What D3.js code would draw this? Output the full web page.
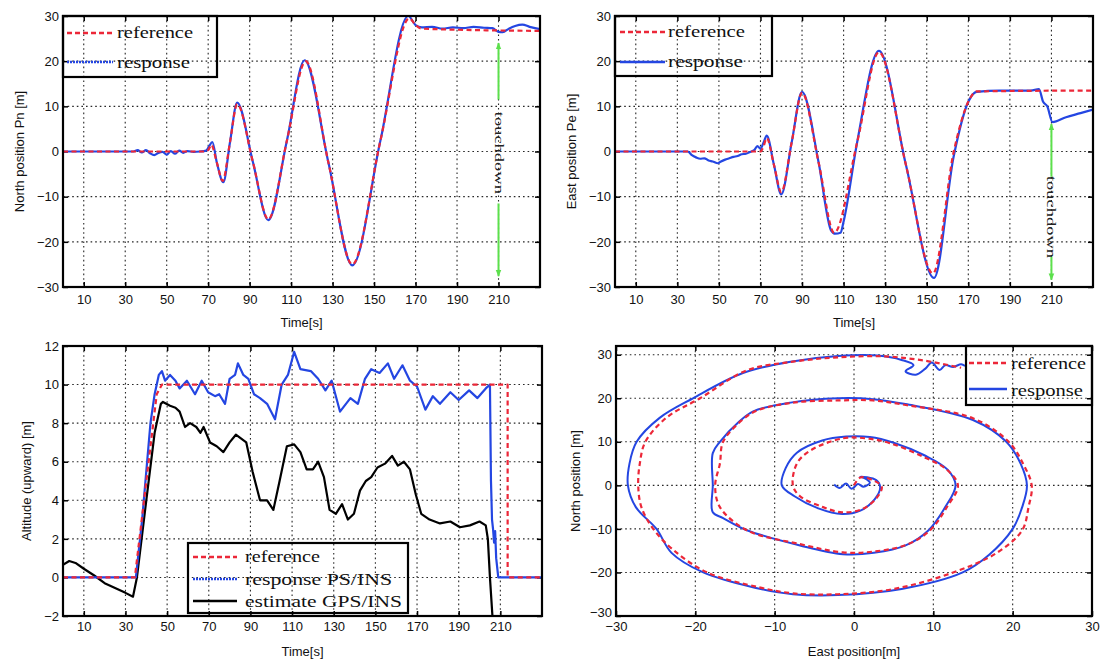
<!DOCTYPE html>
<html><head><meta charset="utf-8">
<script src="https://cdn.jsdelivr.net/npm/d3@7"></script>
<style>
body{margin:0;background:#fff;}
</style></head><body>
<svg id="c" width="1109" height="662"></svg>
<script>
// ---------------- data ----------------
const timeTicks = [10,30,50,70,90,110,130,150,170,190,210];
const posTicks = [-30,-20,-10,0,10,20,30];
const altTicks = [-2,0,2,4,6,8,10,12];
const spiralTicks = [-30,-20,-10,0,10,20,30];

const pnRef = [[0,0],[68,0],[70,0.3],[71.5,1.5],[74.2,-2.5],[77,-6.5],[80.5,2],[84,10.5],[91.5,-2.2],[99,-15],[108,2.5],[117,20],[128,-2.5],[139.5,-25],[153,2.3],[167,29.5],[170,28],[173,27.2],[230,26.7]];
const pnResp = [[0,0],[34,0],[36,0.3],[38,-0.2],[40,0.3],[42,-0.4],[44,-0.8],[46,-0.3],[48,-0.1],[50,-0.7],[52,0.1],[54,-0.5],[56,0.2],[58,-0.3],[60,0.1],[63,-0.1],[66,0],[69,0.2],[70.5,1.2],[72,2.1],[74.2,-2.5],[77.3,-6.8],[80.5,2],[84,10.8],[91.5,-2.2],[99,-15.2],[108,2.5],[116.5,20.2],[128,-2.5],[139.5,-25.2],[153,2.3],[166.5,30],[170,28],[173,27.5],[178,27.6],[183,27.2],[188,27.5],[193,27.3],[198,27.6],[203,27.4],[207,27.3],[210,26.5],[212,26.4],[215,27.2],[218,27.8],[221.5,28.1],[225,27.6],[230,27.1]];

const peRef = [[0,0],[70,0],[71.5,1.2],[73,3],[76.5,-3],[80,-9],[85,2],[90,13],[98,-2.5],[105.5,-18],[116.5,2],[127,22],[140,-3],[153,-27],[163,0],[170,11],[174,13.3],[230,13.5]];
const peResp = [[0,0],[35,0],[37,-0.8],[39,-1.3],[41,-1.6],[43,-1.5],[45,-2],[47,-2.2],[49.5,-2.6],[51,-2.2],[53,-1.8],[55,-1.5],[57,-1.2],[59,-1],[61,-0.6],[63,-0.5],[65,-0.1],[67,0.3],[68.5,1.2],[70,0.6],[71.5,2],[73,3.5],[76.5,-3],[80,-9.5],[85,2],[90,13.2],[98,-2.5],[104,-17.5],[106,-18.2],[108.5,-18],[110,-15.5],[116.5,2],[127,22.3],[140,-3],[153.5,-28],[163,-1],[170,11],[174,13.2],[185,13.5],[200,13.5],[204,13.8],[206,11],[208,10],[210.5,6.5],[217,7.6],[224,8.5],[230,9.3]];

const altRef = [[0,0],[34.5,0],[45,9.5],[47.5,10],[213.5,10],[213.5,0],[230,0]];
const altResp = [[0,0],[35,0],[38,3],[42,8],[44,9.5],[46,10.5],[47.5,10.7],[49,10.2],[51.4,10.5],[54,10.2],[56,9.8],[59.5,10.2],[63.4,9.5],[66.6,10.2],[69.7,9.6],[73,9.4],[75,9.5],[77.8,9.0],[80,10.3],[82.6,10.5],[84,11.1],[86.6,10.5],[89,10.3],[91.7,9.5],[94.6,9.3],[98,9.0],[101.8,8.2],[105,10],[108,10.5],[111,11.7],[114,10.8],[119,10.7],[122.5,10.3],[126,9.7],[129,10.2],[133,8.6],[138,9.3],[141.6,9.0],[145,10.3],[148,10.8],[152,10.6],[156,11.1],[159,10.3],[163,11.0],[166.6,10.2],[170,9.9],[174,8.7],[177.6,9.4],[181,9.0],[186,9.6],[190,9.2],[195,9.7],[199,9.3],[203,9.8],[205,10],[205.5,5],[206,3],[206.5,2.5],[207,1.8],[207.5,2.4],[208,1],[209,0],[230,0]];
const altEst = [[0,0.65],[3,0.85],[6,0.75],[10,0.45],[15,0.1],[20,-0.3],[25,-0.55],[30,-0.8],[33.6,-1.0],[35.5,0],[40,4],[44,7.5],[47,9],[48,9.1],[51.4,8.9],[54,8.8],[56,8.6],[58.6,7.8],[61,8.0],[64,7.8],[66,7.5],[67.5,7.8],[70.6,7.0],[73.8,6.8],[77,6.5],[80,7.0],[83,7.4],[88,7.0],[91,5.5],[94.6,4],[98,4.0],[101,3.5],[104,5],[107.5,6.8],[111,6.9],[114,6.5],[117,5.6],[120,5.6],[122.5,6.0],[125.3,5.2],[128,3.5],[131,3.3],[134,3.8],[136.8,3.0],[139.7,3.3],[142.6,4.5],[145.4,5.0],[148,5.2],[151,5.7],[154.6,5.9],[158,6.3],[160.8,5.8],[163.7,6.0],[166.6,5.6],[169.4,4.3],[172,3.3],[176,3.0],[181,2.8],[186,2.9],[190.6,2.6],[195.4,2.7],[200,2.9],[203,2.7],[204,2],[205,0],[206.5,-2.5]];

// spiral (East, North)
const spiralRef = [[0,0],[0.8,1.8],[2.6,1],[3.5,-0.4],[2.8,-3],[1,-5.5],[-1.5,-6.2],[-3.9,-5],[-6.8,-2.5],[-7.7,0],[-7.2,5],[-5.5,8],[-1.4,10.8],[1.5,10.8],[4.5,9.7],[8.7,6.6],[11.7,3.6],[13.1,0],[11.7,-5],[9.6,-10.3],[6.7,-13.6],[2.5,-15.2],[-1.4,-15.4],[-6.8,-13.5],[-13.5,-10.3],[-16.9,-5],[-17.5,0],[-16.9,5],[-16.5,10],[-14.1,15],[-12.2,17.2],[-7.7,19],[-2,19.5],[2.4,19.5],[6.7,18.4],[15,15.4],[19.5,10],[21.3,5],[22.4,0],[22,-5],[21.2,-10.3],[18,-15.5],[12.5,-20],[5,-23.8],[-2,-25],[-7.7,-24.8],[-12,-23.4],[-18.5,-20],[-22.8,-14.8],[-25.3,-10],[-26.8,-5],[-27.2,0],[-27,5],[-26.3,10],[-23.6,15.6],[-19.4,20],[-13.5,26.4],[-7.7,28.4],[-2,29.4],[4,29.6],[9,28.6],[13.5,27]];
const spiralResp = [[-2.5,0.2],[-1.8,-0.6],[-1,0.4],[-0.3,-0.8],[0.5,0.3],[1.2,-0.3],[2,0.6],[1.5,1.5],[0.8,2],[2.8,1.2],[3.3,-0.5],[2.6,-3.2],[0.8,-5.8],[-1.5,-6.6],[-4.5,-5.3],[-7.5,-2.5],[-9.1,0],[-8.6,4],[-7.2,7.5],[-4,10.3],[-1,11.2],[2,11.1],[5,9.8],[9,6.8],[11.8,3.6],[12.8,0],[11.5,-5],[9.4,-10.3],[6.5,-13.8],[2.5,-15.5],[-1.4,-15.8],[-6.8,-13.8],[-13.5,-10.3],[-16.5,-7.5],[-17.8,-6.2],[-17.8,0],[-17.8,7.4],[-16.9,10],[-14.5,14.6],[-12.7,17],[-8,19],[-2,20],[2.4,19.8],[6.7,18.6],[15,15],[19.2,10],[21,5],[21.8,0],[21.2,-5],[20,-10],[17,-16],[13.7,-20],[6,-23.8],[-2,-25.2],[-7.7,-25],[-12.5,-23.5],[-19,-20],[-23,-15.5],[-24.9,-10],[-27.5,-5],[-28.5,0],[-28.3,5],[-27.4,10],[-24.5,15.5],[-20.3,20],[-14,25.8],[-8,28.4],[-2,29.7],[3,29.8],[6,28.8],[7.5,27.6],[6.5,26.2],[7.8,25.4],[9,26.8],[9.8,28.2],[10.8,26.5],[11.5,27.6],[12.5,27.2],[13.5,27.8],[14,27.4]];

// touchdown annotation (time, arrow value ranges)
const touchdownTime = 210;
const touchPn = {up:[24,11.5], down:[-11.5,-27.6], text:-0.3};
const touchPe = {up:[6.1,-5.6], down:[-23.3,-28.4], text:-14.5};

// ---------------- drawing ----------------
const svg = d3.select("#c");
const RED="#ec2738", BLUE="#2446e2", GREEN="#5ce04c", BLACK="#000";
const SANS='"Liberation Sans", Arial, sans-serif';
const SERIF='"Liberation Serif", "Times New Roman", serif';

const defs = svg.append("defs");
defs.append("marker").attr("id","arrow").attr("viewBox","0 0 10 10").attr("refX",9).attr("refY",5)
  .attr("markerWidth",7).attr("markerHeight",7).attr("orient","auto-start-reverse").attr("markerUnits","userSpaceOnUse")
  .append("path").attr("d","M0,1 L10,5 L0,9 Z").attr("fill",GREEN);

function makePanel(o){
  const xs=d3.scaleLinear().domain(o.xd).range([o.x0,o.x1]);
  const ys=d3.scaleLinear().domain(o.yd).range([o.y1,o.y0]);
  const g=svg.append("g");
  const id="clip"+o.id;
  defs.append("clipPath").attr("id",id).append("rect")
    .attr("x",o.x0).attr("y",o.y0).attr("width",o.x1-o.x0).attr("height",o.y1-o.y0);
  const grid=g.append("g").attr("stroke","#111").attr("stroke-width",1.1).attr("stroke-dasharray","1.6,3").attr("opacity",0.9);
  grid.selectAll("line.v").data(o.xt.filter(v=>v>o.xd[0]&&v<o.xd[1])).join("line").attr("class","v")
    .attr("x1",d=>xs(d)).attr("x2",d=>xs(d)).attr("y1",o.y0).attr("y2",o.y1);
  grid.selectAll("line.h").data(o.yt.filter(v=>v>o.yd[0]&&v<o.yd[1])).join("line").attr("class","h")
    .attr("y1",d=>ys(d)).attr("y2",d=>ys(d)).attr("x1",o.x0).attr("x2",o.x1);
  const fmt=d3.format("d");
  const style=a=>{a.select(".domain").remove();a.attr("font-size",13).attr("font-family",SANS);
    a.selectAll("line").attr("stroke-width",1.5);a.selectAll("text").attr("fill","#111");};
  g.append("g").attr("transform",`translate(0,${o.y1})`)
    .call(d3.axisBottom(xs).tickValues(o.xt).tickSize(-5).tickPadding(o.bp).tickFormat(fmt)).call(style);
  const la=g.append("g").attr("transform",`translate(${o.x0},0)`)
    .call(d3.axisLeft(ys).tickValues(o.yt).tickSize(-5).tickPadding(4).tickFormat(fmt)).call(style);
  if(o.liftBottomY){
    la.selectAll(".tick").filter(d=>d===o.yd[0]).select("text").attr("dy","0.05em");
  }
  g.append("g").attr("transform",`translate(0,${o.y0})`)
    .call(d3.axisTop(xs).tickValues(o.xt).tickSize(-5).tickFormat("")).call(style);
  g.append("g").attr("transform",`translate(${o.x1},0)`)
    .call(d3.axisRight(ys).tickValues(o.yt).tickSize(-5).tickFormat("")).call(style);
  const data=svg.append("g").attr("clip-path",`url(#${id})`);
  const top=svg.append("g");
  top.append("rect").attr("x",o.x0).attr("y",o.y0).attr("width",o.x1-o.x0).attr("height",o.y1-o.y0)
    .attr("fill","none").attr("stroke","#000").attr("stroke-width",2.2);
  top.append("text").attr("x",(o.x0+o.x1)/2).attr("y",o.xly).attr("text-anchor","middle")
    .attr("font-family",SANS).attr("font-size",13).attr("fill","#111").text(o.xl);
  top.append("text").attr("transform",`translate(${o.ylx},${(o.y0+o.y1)/2}) rotate(-90)`).attr("text-anchor","middle")
    .attr("font-family",SANS).attr("font-size",13).attr("fill","#111").text(o.yl);
  return {xs,ys,data,top};
}

function drawLine(p,arr,color,dash,curve,w){
  const line=d3.line().x(d=>p.xs(d[0])).y(d=>p.ys(d[1])).curve(curve);
  p.data.append("path").attr("d",line(arr)).attr("fill","none").attr("stroke",color)
    .attr("stroke-width",w||2.2).attr("stroke-dasharray",dash||null).attr("stroke-linejoin","round");
}

function legend(p,box,items){
  const g=p.top.append("g");
  g.append("rect").attr("x",box[0]).attr("y",box[1]).attr("width",box[2]).attr("height",box[3])
    .attr("fill","none").attr("stroke","#000").attr("stroke-width",2.2);
  items.forEach(it=>{
    g.append("line").attr("x1",it.sx[0]).attr("x2",it.sx[1]).attr("y1",it.sy).attr("y2",it.sy)
      .attr("stroke",it.color).attr("stroke-width",2.4).attr("stroke-dasharray",it.dash||null);
    g.append("text").attr("x",it.tx).attr("y",it.ty).attr("font-family",SERIF).attr("font-size",17)
      .attr("fill","#111").attr("textLength",it.len).attr("lengthAdjust","spacingAndGlyphs").text(it.label);
  });
}

function touchdown(p,t,spec){
  const x=p.xs(t);
  const g=p.top.append("g");
  g.append("line").attr("x1",x).attr("x2",x).attr("y1",p.ys(spec.up[1])).attr("y2",p.ys(spec.up[0]))
    .attr("stroke",GREEN).attr("stroke-width",2).attr("marker-end","url(#arrow)");
  g.append("line").attr("x1",x).attr("x2",x).attr("y1",p.ys(spec.down[0])).attr("y2",p.ys(spec.down[1]))
    .attr("stroke",GREEN).attr("stroke-width",2).attr("marker-end","url(#arrow)");
  g.append("text").attr("transform",`translate(${x-4},${p.ys(spec.text)}) rotate(90)`).attr("text-anchor","middle")
    .attr("font-family",SERIF).attr("font-size",12).attr("fill","#222")
    .attr("textLength",82).attr("lengthAdjust","spacingAndGlyphs").text("touchdown");
}

// Panel 1: North position vs time
const p1=makePanel({id:1,x0:63,x1:540,y0:16,y1:287,xd:[0,230],yd:[-30,30],xt:timeTicks,yt:posTicks,bp:8,
  xl:"Time[s]",xly:327,yl:"North position Pn [m]",ylx:24});
drawLine(p1,pnResp,BLUE,null,d3.curveMonotoneX);
drawLine(p1,pnRef,RED,"5,3.5",d3.curveMonotoneX);
legend(p1,[63,16,154,61],[
  {label:"reference",color:RED,dash:"5,3",sx:[67,113],sy:33,tx:117,ty:38,len:76},
  {label:"response",color:BLUE,dash:"2,1",sx:[67,113],sy:62,tx:117,ty:68,len:73}]);
touchdown(p1,touchdownTime,touchPn);

// Panel 2: East position vs time
const p2=makePanel({id:2,x0:615,x1:1093,y0:16,y1:287,xd:[0,230],yd:[-30,30],xt:timeTicks,yt:posTicks,bp:8,
  xl:"Time[s]",xly:327,yl:"East position Pe [m]",ylx:576});
drawLine(p2,peResp,BLUE,null,d3.curveMonotoneX);
drawLine(p2,peRef,RED,"5,3.5",d3.curveMonotoneX);
legend(p2,[615,16,157,60],[
  {label:"reference",color:RED,dash:"5,3",sx:[620,665],sy:32,tx:668,ty:37,len:77},
  {label:"response",color:BLUE,sx:[620,665],sy:62,tx:668,ty:67,len:75}]);
touchdown(p2,touchdownTime,touchPe);

// Panel 3: Altitude
const p3=makePanel({id:3,x0:63,x1:542,y0:346,y1:616,xd:[0,230],yd:[-2,12],xt:timeTicks,yt:altTicks,bp:6,
  xl:"Time[s]",xly:656,yl:"Altitude (upward) [m]",ylx:31});
drawLine(p3,altEst,BLACK,null,d3.curveLinear,2.2);
drawLine(p3,altResp,BLUE,null,d3.curveLinear,2.2);
drawLine(p3,altRef,RED,"5,3.5",d3.curveLinear,2.2);
legend(p3,[188,543,220,70],[
  {label:"reference",color:RED,dash:"5,3",sx:[193,237],sy:557,tx:245,ty:562,len:75},
  {label:"response PS/INS",color:BLUE,dash:"2,1",sx:[193,237],sy:579,tx:245,ty:585,len:147},
  {label:"estimate GPS/INS",color:BLACK,sx:[193,237],sy:601,tx:245,ty:607,len:157}]);

// Panel 4: spiral
const p4=makePanel({id:4,x0:616,x1:1092,y0:346,y1:616,xd:[-30,30],yd:[-30,32],xt:spiralTicks,yt:spiralTicks,bp:6,
  xl:"East position[m]",xly:656,yl:"North position [m]",ylx:580,liftBottomY:true});
drawLine(p4,spiralResp,BLUE,null,d3.curveCatmullRom,2);
drawLine(p4,spiralRef,RED,"5,3.5",d3.curveCatmullRom,2.2);
legend(p4,[966,346,126,59],[
  {label:"reference",color:RED,dash:"5,3",sx:[969,1007],sy:363,tx:1011,ty:369,len:75},
  {label:"response",color:BLUE,sx:[969,1007],sy:389,tx:1011,ty:396,len:72}]);
</script>
</body></html>
